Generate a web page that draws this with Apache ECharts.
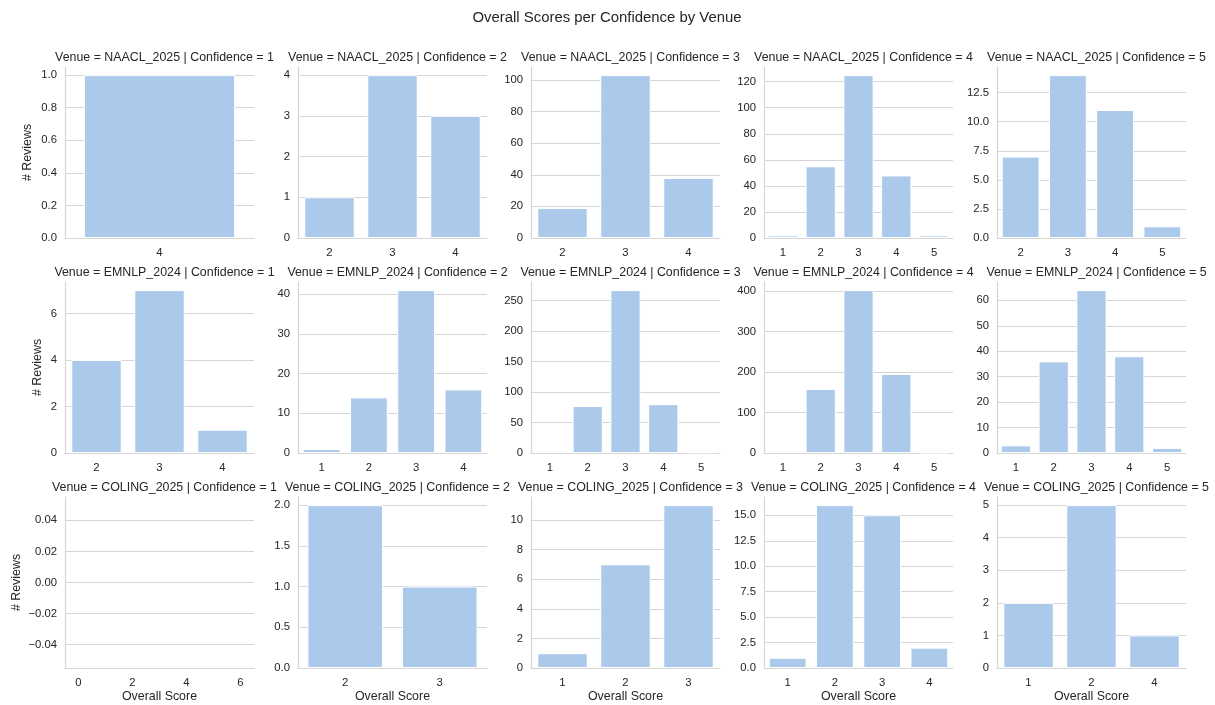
<!DOCTYPE html>
<html>
<head>
<meta charset="utf-8">
<script src="https://cdn.jsdelivr.net/npm/echarts@6/dist/echarts.min.js"></script>
<style>
  html, body { margin: 0; padding: 0; background: #ffffff; }
  #chart { width: 1215px; height: 705px; }
</style>
</head>
<body>
<div id="chart"></div>
<script>
// ---------- DATA ----------
const venues = ['NAACL_2025', 'EMNLP_2024', 'COLING_2025'];
const confidences = [1, 2, 3, 4, 5];

const naaclScores = [['4'], ['2', '3', '4'], ['2', '3', '4'], ['1', '2', '3', '4', '5'], ['2', '3', '4', '5']];
const naaclCounts = [[1], [1, 4, 3], [19, 103, 38], [2, 55, 125, 48, 2], [7, 14, 11, 1]];

const emnlpScores = [['2', '3', '4'], ['1', '2', '3', '4'], ['1', '2', '3', '4', '5'], ['1', '2', '3', '4', '5'], ['1', '2', '3', '4', '5']];
const emnlpCounts = [[4, 7, 1], [1, 14, 41, 16], [2, 77, 267, 80, 1], [5, 158, 402, 195, 1], [3, 36, 64, 38, 2]];

const colingScores = [[], ['2', '3'], ['1', '2', '3'], ['1', '2', '3', '4'], ['1', '2', '4']];
const colingCounts = [[], [2, 1], [1, 7, 11], [1, 16, 15, 2], [2, 5, 1]];

const naaclYTicks = [['0.0', '0.2', '0.4', '0.6', '0.8', '1.0'], ['0', '1', '2', '3', '4'], ['0', '20', '40', '60', '80', '100'], ['0', '20', '40', '60', '80', '100', '120'], ['0.0', '2.5', '5.0', '7.5', '10.0', '12.5']];
const emnlpYTicks = [['0', '2', '4', '6'], ['0', '10', '20', '30', '40'], ['0', '50', '100', '150', '200', '250'], ['0', '100', '200', '300', '400'], ['0', '10', '20', '30', '40', '50', '60']];
const colingYTicks = [['−0.04', '−0.02', '0.00', '0.02', '0.04'], ['0.0', '0.5', '1.0', '1.5', '2.0'], ['0', '2', '4', '6', '8', '10'], ['0.0', '2.5', '5.0', '7.5', '10.0', '12.5', '15.0'], ['0', '1', '2', '3', '4', '5']];

const emptyXTicks = ['0', '2', '4', '6'];
const emptyYRange = [-0.055, 0.055];
const emptyXRange = [-0.5, 6.5];

// ---------- LAYOUT / STYLE ----------
const FONT = '"Liberation Sans", Arial, Helvetica, sans-serif';
const TXT = '#262626';
const GRIDC = '#d6d6d6';
const BAR = '#abc9ea';
const colLeft = [65, 298, 531, 764, 997];
const rowTop = [67, 282, 497];
const yNameGap = [31, 21, 42];
const PW = 189, PH = 171;

const allScores = [naaclScores, emnlpScores, colingScores];
const allCounts = [naaclCounts, emnlpCounts, colingCounts];
const allYTicks = [naaclYTicks, emnlpYTicks, colingYTicks];

const toNum = s => Number(String(s).replace('−', '-'));

const option = {
  backgroundColor: '#ffffff',
  animation: false,
  textStyle: { fontFamily: FONT },
  title: [{
    text: 'Overall Scores per Confidence by Venue',
    left: 602, top: 5, textAlign: 'center',
    textStyle: { fontFamily: FONT, fontSize: 14.9, fontWeight: 'normal', color: TXT }
  }],
  grid: [], xAxis: [], yAxis: [], series: []
};

venues.forEach((venue, r) => {
  confidences.forEach((conf, c) => {
    const idx = r * 5 + c;
    const scores = allScores[r][c];
    const counts = allCounts[r][c];
    const ticks = allYTicks[r][c];
    const tickVals = ticks.map(toNum);
    const labelMap = {};
    ticks.forEach(t => { labelMap[String(toNum(t))] = t; });
    const isEmpty = counts.length === 0;

    option.grid.push({ left: colLeft[c], top: rowTop[r], width: PW, height: PH, containLabel: false });

    option.title.push({
      text: 'Venue = ' + venue + ' | Confidence = ' + conf,
      left: colLeft[c] + PW / 2, top: rowTop[r] - 20, textAlign: 'center',
      textStyle: { fontFamily: FONT, fontSize: 12.4, fontWeight: 'normal', color: TXT }
    });

    const axisLineStyle = { show: true, onZero: false, lineStyle: { color: GRIDC, width: 1.2 } };
    const xNameOpts = r === 2 ? {
      name: 'Overall Score', nameLocation: 'middle', nameGap: 23, nameMoveOverlap: false,
      nameTextStyle: { fontFamily: FONT, fontSize: 12.4, color: TXT }
    } : {};

    if (isEmpty) {
      option.xAxis.push(Object.assign({
        type: 'value', gridIndex: idx, min: emptyXRange[0], max: emptyXRange[1],
        axisLine: axisLineStyle,
        axisTick: { show: false, customValues: emptyXTicks.map(Number) },
        splitLine: { show: false },
        axisLabel: { customValues: emptyXTicks.map(Number), margin: 9, color: TXT, fontSize: 11.3, fontFamily: FONT }
      }, xNameOpts));
    } else {
      option.xAxis.push(Object.assign({
        type: 'category', gridIndex: idx, data: scores,
        axisLine: axisLineStyle,
        axisTick: { show: false },
        splitLine: { show: false },
        axisLabel: { margin: 9, color: TXT, fontSize: 11.3, fontFamily: FONT, interval: 0 }
      }, xNameOpts));
    }

    const yMin = isEmpty ? emptyYRange[0] : 0;
    const yMax = isEmpty ? emptyYRange[1] : Math.max.apply(null, counts) * 1.05;
    const yNameOpts = c === 0 ? {
      name: '# Reviews', nameLocation: 'middle', nameGap: yNameGap[r], nameMoveOverlap: false,
      nameTextStyle: { fontFamily: FONT, fontSize: 12.4, color: TXT }
    } : {};
    option.yAxis.push(Object.assign({
      type: 'value', gridIndex: idx, min: yMin, max: yMax,
      axisLine: axisLineStyle,
      axisTick: { show: false, customValues: tickVals },
      splitLine: { show: true, lineStyle: { color: GRIDC, width: 1.2 } },
      axisLabel: {
        customValues: tickVals, margin: 8, color: TXT, fontSize: 11.3, fontFamily: FONT,
        formatter: v => labelMap[String(v)] !== undefined ? labelMap[String(v)] : ''
      }
    }, yNameOpts));

    option.series.push({
      type: 'bar', xAxisIndex: idx, yAxisIndex: idx,
      data: isEmpty ? [] : counts,
      barCategoryGap: '20%',
      itemStyle: { color: BAR, borderColor: '#ffffff', borderWidth: 1 }
    });
  });
});

const chart = echarts.init(document.getElementById('chart'), null, { renderer: 'canvas' });
chart.setOption(option);
</script>
</body>
</html>
